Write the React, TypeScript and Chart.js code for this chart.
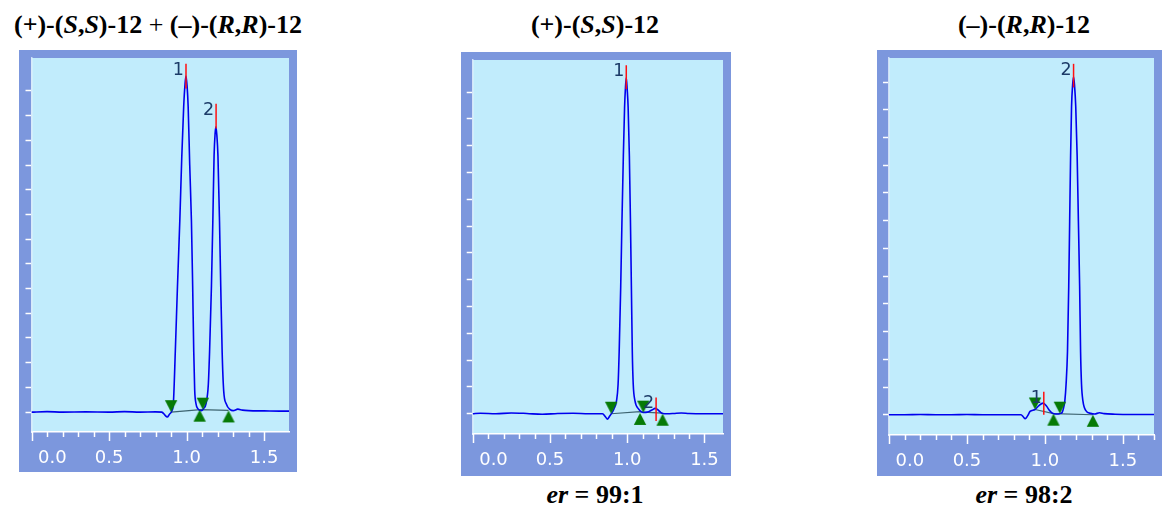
import React, { useEffect, useRef } from 'react';
import { Chart, registerables } from 'chart.js';

Chart.register(...registerables);

// ---------------- DATA ----------------
// Panel 1: racemic mixture
const P1_TIME = [0.00, 0.10, 0.20, 0.35, 0.50, 0.60, 0.70, 0.80, 0.84, 0.86, 0.875, 0.89, 0.905, 0.915, 0.927, 0.941, 0.956, 0.969, 0.981, 0.990, 0.996, 1.003, 1.010, 1.020, 1.031, 1.039, 1.046, 1.052, 1.060, 1.073, 1.094, 1.110, 1.125, 1.140, 1.148, 1.160, 1.169, 1.177, 1.184, 1.189, 1.195, 1.202, 1.212, 1.220, 1.229, 1.239, 1.256, 1.281, 1.30, 1.33, 1.36, 1.40, 1.50, 1.60, 1.66];
const P1_SIGNAL = [0.00, 0.02, 0.00, 0.01, 0.00, 0.02, 0.00, 0.01, 0.00, -0.12, -0.20, -0.08, 0.05, 0.40, 2.44, 5.09, 7.73, 10.37, 12.35, 13.30, 13.60, 13.20, 12.35, 10.00, 7.73, 5.09, 2.44, 0.90, 0.35, 0.13, 0.06, 0.15, 0.34, 1.13, 2.44, 5.09, 7.73, 10.37, 11.30, 11.55, 11.20, 10.37, 7.73, 5.09, 2.44, 0.86, 0.33, 0.10, 0.06, 0.12, 0.08, 0.06, 0.05, 0.04, 0.04];
const P1_BASE_X = [0.90, 1.09, 1.27];
const P1_BASE_Y = [0.00, 0.10, 0.07];
const P1_START_X = [0.90, 1.104];
const P1_START_Y = [0.00, 0.10];
const P1_END_X = [1.084, 1.27];
const P1_END_Y = [0.10, 0.07];
const P1_APEX_X = [0.996, 1.19];
const P1_APEX_LO = [13.1, 11.48];
const P1_APEX_HI = [14.1, 12.48];
const P1_PEAK_NAMES = ['1', '2'];

// Panel 2: (+)-(S,S)-12
const P2_TIME = [0.00, 0.05, 0.15, 0.25, 0.35, 0.45, 0.55, 0.65, 0.75, 0.84, 0.86, 0.872, 0.885, 0.90, 0.914, 0.931, 0.941, 0.948, 0.958, 0.966, 0.975, 0.983, 0.989, 0.994, 1.000, 1.006, 1.014, 1.021, 1.027, 1.033, 1.039, 1.050, 1.073, 1.090, 1.104, 1.13, 1.16, 1.181, 1.20, 1.215, 1.23, 1.26, 1.30, 1.35, 1.40, 1.50, 1.62];
const P2_SIGNAL = [0.00, 0.02, 0.00, 0.03, 0.01, -0.02, 0.01, 0.02, 0.00, 0.00, -0.12, -0.20, -0.10, 0.02, 0.18, 0.49, 1.10, 2.31, 4.75, 7.18, 9.62, 11.44, 12.20, 12.54, 12.10, 11.44, 9.62, 7.18, 4.75, 2.31, 1.10, 0.49, 0.18, 0.08, 0.05, 0.06, 0.14, 0.20, 0.14, 0.06, 0.01, 0.00, 0.01, 0.03, 0.01, 0.00, 0.00];
const P2_BASE_X = [0.896, 1.083, 1.104, 1.229];
const P2_BASE_Y = [0.00, 0.08, 0.06, 0.02];
const P2_START_X = [0.896, 1.104];
const P2_START_Y = [0.00, 0.04];
const P2_END_X = [1.083, 1.229];
const P2_END_Y = [0.03, 0.00];
const P2_APEX_X = [0.994, 1.187];
const P2_APEX_LO = [12.11, -0.27];
const P2_APEX_HI = [13.0, 0.61];
const P2_PEAK_NAMES = ['1', '2'];

// Panel 3: (–)-(R,R)-12
const P3_TIME = [0.00, 0.10, 0.20, 0.30, 0.40, 0.50, 0.60, 0.70, 0.80, 0.847, 0.862, 0.874, 0.888, 0.905, 0.937, 0.960, 0.989, 1.010, 1.030, 1.045, 1.070, 1.086, 1.100, 1.111, 1.120, 1.128, 1.136, 1.145, 1.153, 1.159, 1.165, 1.171, 1.178, 1.184, 1.190, 1.198, 1.207, 1.215, 1.223, 1.229, 1.235, 1.244, 1.263, 1.294, 1.32, 1.35, 1.38, 1.45, 1.55, 1.70];
const P3_SIGNAL = [0.00, 0.00, 0.01, 0.00, 0.00, 0.01, 0.00, 0.00, 0.00, 0.00, -0.08, -0.14, -0.05, 0.12, 0.19, 0.32, 0.42, 0.32, 0.15, 0.07, 0.03, 0.03, 0.05, 0.09, 0.25, 0.50, 1.10, 2.27, 4.63, 6.98, 9.34, 11.11, 11.90, 12.19, 11.90, 11.11, 9.34, 6.98, 4.63, 2.27, 1.10, 0.50, 0.15, 0.05, 0.03, 0.07, 0.04, 0.02, 0.01, 0.01];
const P3_BASE_X = [0.937, 1.055, 1.308];
const P3_BASE_Y = [0.19, 0.04, 0.00];
const P3_START_X = [0.937, 1.096];
const P3_START_Y = [0.19, 0.04];
const P3_END_X = [1.055, 1.308];
const P3_END_Y = [0.04, 0.00];
const P3_APEX_X = [0.993, 1.184];
const P3_APEX_LO = [0.0, 11.81];
const P3_APEX_HI = [0.83, 12.66];
const P3_PEAK_NAMES = ['1', '2'];

// Axis tick labels
const X_TICK_VALUES = [0.0, 0.5, 1.0, 1.5];
const X_TICK_LABELS = ['0.0', '0.5', '1.0', '1.5'];

// Captions
const ER_2 = '99:1';
const ER_3 = '98:2';

// ---------------- STYLE ----------------
const FRAME = '#7c97dd';
const PLOT_BG = '#c1ecfc';
const TRACE = '#0000ee';
const GREEN = '#067a06';
const BASELINE = '#3d6470';

function makeTriangle(down: boolean): HTMLCanvasElement {
  const c = document.createElement('canvas');
  c.width = 14;
  c.height = 26;
  const g = c.getContext('2d')!;
  g.fillStyle = GREEN;
  g.beginPath();
  if (down) {
    g.moveTo(0.8, 1);
    g.lineTo(13.2, 1);
    g.lineTo(7, 13);
  } else {
    g.moveTo(7, 13);
    g.lineTo(13.2, 25);
    g.lineTo(0.8, 25);
  }
  g.closePath();
  g.fill();
  return c;
}

const zip = (xs: number[], ys: number[]) => xs.map((x, i) => ({ x, y: ys[i] }));

const decoPlugin = {
  id: 'deco',
  beforeDraw(chart: any) {
    const { ctx, chartArea: a, width, height } = chart;
    ctx.save();
    ctx.fillStyle = FRAME;
    ctx.fillRect(0, 0, width, height);
    ctx.fillStyle = PLOT_BG;
    ctx.fillRect(a.left, a.top, a.right - a.left, a.bottom - a.top);
    ctx.restore();
  },
  afterDraw(chart: any, _args: any, opts: any) {
    const { ctx, chartArea: a } = chart;
    const xs = chart.scales.x;
    const ys = chart.scales.y;
    ctx.save();
    // x ticks
    ctx.strokeStyle = '#ffffff';
    ctx.lineWidth = 1.5;
    xs.ticks.forEach((t: any) => {
      const v = t.value;
      const major = Math.abs(v * 2 - Math.round(v * 2)) < 1e-6;
      const px = Math.round(xs.getPixelForValue(v)) + 0.5;
      ctx.beginPath();
      ctx.moveTo(px, a.bottom);
      ctx.lineTo(px, a.bottom + (major ? 9 : 5));
      ctx.stroke();
    });
    // x labels
    ctx.fillStyle = '#ffffff';
    ctx.font = '18px "DejaVu Sans", Verdana, sans-serif';
    ctx.textBaseline = 'middle';
    X_TICK_VALUES.forEach((v, i) => {
      const px = xs.getPixelForValue(v);
      if (i === 0) {
        ctx.textAlign = 'left';
        ctx.fillText(X_TICK_LABELS[i], px + 6.5, a.bottom + 26);
      } else {
        ctx.textAlign = 'center';
        ctx.fillText(X_TICK_LABELS[i], px, a.bottom + 26);
      }
    });
    // peak labels
    ctx.fillStyle = '#1c3b68';
    ctx.font = '17.5px "DejaVu Sans", Verdana, sans-serif';
    ctx.textAlign = 'right';
    ctx.textBaseline = 'alphabetic';
    (opts.peaks || []).forEach((p: any) => {
      const px = xs.getPixelForValue(p.x);
      const py = ys.getPixelForValue(p.top);
      ctx.fillText(p.text, px - 2, py + 11);
    });
    ctx.restore();
  },
};

type PanelProps = {
  left: number; top: number; width: number; height: number;
  yAxisW: number; xAxisH: number;
  xMax: number; yMin: number; yMax: number;
  time: number[]; signal: number[];
  baseX: number[]; baseY: number[];
  startX: number[]; startY: number[];
  endX: number[]; endY: number[];
  apexX: number[]; apexLo: number[]; apexHi: number[];
  names: string[];
};

function Panel(p: PanelProps) {
  const ref = useRef<HTMLCanvasElement>(null);
  useEffect(() => {
    const down = makeTriangle(true);
    const up = makeTriangle(false);
    const datasets: any[] = [];
    datasets.push({ data: zip(p.startX, p.startY), pointStyle: down, pointRadius: 7, showLine: false });
    datasets.push({ data: zip(p.endX, p.endY), pointStyle: up, pointRadius: 7, showLine: false });
    p.apexX.forEach((ax, i) => {
      datasets.push({
        data: [{ x: ax, y: p.apexLo[i] }, { x: ax, y: p.apexHi[i] }],
        showLine: true, borderColor: '#ff1010', borderWidth: 1.5, pointRadius: 0,
      });
    });
    datasets.push({
      data: zip(p.time, p.signal), showLine: true, borderColor: TRACE, borderWidth: 1.6,
      pointRadius: 0, cubicInterpolationMode: 'monotone',
    });
    datasets.push({
      data: zip(p.baseX, p.baseY), showLine: true, borderColor: BASELINE, borderWidth: 1.2, pointRadius: 0,
    });
    const chart = new Chart(ref.current!, {
      type: 'scatter',
      data: { datasets },
      plugins: [decoPlugin],
      options: {
        animation: false,
        responsive: false,
        events: [],
        layout: { padding: 0 },
        plugins: {
          legend: { display: false },
          tooltip: { enabled: false },
          deco: { peaks: p.apexX.map((x, i) => ({ x, top: p.apexHi[i], text: p.names[i] })) },
        } as any,
        scales: {
          x: {
            type: 'linear', min: 0, max: p.xMax,
            ticks: { display: false, stepSize: 0.1 },
            afterBuildTicks: (s: any) => {
              s.ticks = s.ticks.filter((t: any) => Math.abs(t.value * 10 - Math.round(t.value * 10)) < 1e-6);
            },
            grid: { display: false },
            border: { display: true, color: '#ffffff', width: 1.5 },
            afterFit: (s: any) => { s.height = p.xAxisH; },
          },
          y: {
            type: 'linear', min: p.yMin, max: p.yMax,
            ticks: { display: false, stepSize: 1 },
            afterBuildTicks: (s: any) => {
              s.ticks = s.ticks.filter((t: any) => t.value >= 0 && Math.abs(t.value - Math.round(t.value)) < 1e-6);
            },
            grid: { display: true, drawOnChartArea: false, drawTicks: true, tickLength: 6, tickColor: '#ffffff', tickWidth: 1.5 },
            border: { display: true, color: 'rgba(235,245,255,0.75)', width: 1.5 },
            afterFit: (s: any) => { s.width = p.yAxisW; },
          },
        } as any,
      },
    } as any);
    return () => chart.destroy();
  }, []);
  return (
    <canvas
      ref={ref}
      width={p.width}
      height={p.height}
      style={{ position: 'absolute', left: p.left, top: p.top, width: p.width, height: p.height }}
    />
  );
}

const serif = '"Liberation Serif", "Times New Roman", serif';

function Caption({ center, top, size, children }: { center: number; top: number; size: number; children: React.ReactNode }) {
  return (
    <div
      style={{
        position: 'absolute', left: center - 200, width: 400, top, textAlign: 'center',
        fontFamily: serif, fontWeight: 'bold', fontSize: size, lineHeight: `${size}px`, whiteSpace: 'nowrap', color: '#000',
      }}
    >
      {children}
    </div>
  );
}

export default function App() {
  return (
    <div style={{ position: 'fixed', left: 0, top: 0, width: 1162, height: 508, background: '#fff', overflow: 'hidden' }}>
      <Caption center={158} top={11.7} size={26}>
        (+)-(<i>S</i>,<i>S</i>)-12 <span style={{ fontWeight: 'normal' }}>+</span> (–)-(<i>R</i>,<i>R</i>)-12
      </Caption>
      <Caption center={595} top={11.7} size={26}>
        (+)-(<i>S</i>,<i>S</i>)-12
      </Caption>
      <Caption center={1024} top={11.7} size={26}>
        (–)-(<i>R</i>,<i>R</i>)-12
      </Caption>
      <Caption center={595} top={481.5} size={26}>
        <i>er</i> = {ER_2}
      </Caption>
      <Caption center={1024} top={481.5} size={26}>
        <i>er</i> = {ER_3}
      </Caption>
      <Panel
        left={19} top={50} width={278} height={422} yAxisW={12.5} xAxisH={40}
        xMax={1.66} yMin={-0.804} yMax={14.33}
        time={P1_TIME} signal={P1_SIGNAL} baseX={P1_BASE_X} baseY={P1_BASE_Y}
        startX={P1_START_X} startY={P1_START_Y} endX={P1_END_X} endY={P1_END_Y}
        apexX={P1_APEX_X} apexLo={P1_APEX_LO} apexHi={P1_APEX_HI} names={P1_PEAK_NAMES}
      />
      <Panel
        left={461} top={52} width={270} height={424} yAxisW={11.7} xAxisH={42}
        xMax={1.62} yMin={-0.756} yMax={13.2}
        time={P2_TIME} signal={P2_SIGNAL} baseX={P2_BASE_X} baseY={P2_BASE_Y}
        startX={P2_START_X} startY={P2_START_Y} endX={P2_END_X} endY={P2_END_Y}
        apexX={P2_APEX_X} apexLo={P2_APEX_LO} apexHi={P2_APEX_HI} names={P2_PEAK_NAMES}
      />
      <Panel
        left={877} top={50} width={285} height={426} yAxisW={12} xAxisH={41}
        xMax={1.70} yMin={-0.73} yMax={12.87}
        time={P3_TIME} signal={P3_SIGNAL} baseX={P3_BASE_X} baseY={P3_BASE_Y}
        startX={P3_START_X} startY={P3_START_Y} endX={P3_END_X} endY={P3_END_Y}
        apexX={P3_APEX_X} apexLo={P3_APEX_LO} apexHi={P3_APEX_HI} names={P3_PEAK_NAMES}
      />
    </div>
  );
}
